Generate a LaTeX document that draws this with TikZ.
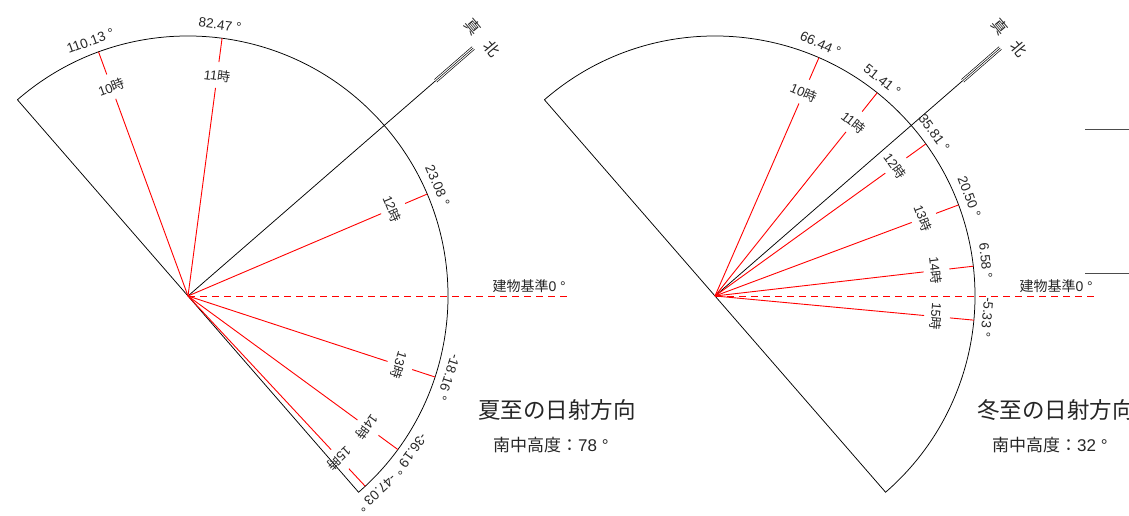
\documentclass[tikz,border=0pt]{standalone}
\usepackage{fontspec}
\setmainfont{Noto Sans CJK JP}
\newfontfamily\latnum{Liberation Sans}
\begin{document}
\begin{tikzpicture}[x=1pt,y=1pt,
  outline/.style={black, line width=0.75pt},
  northtick/.style={black, line width=0.5pt},
  hourline/.style={red, line width=0.9pt},
  refline/.style={red, line width=0.9pt, dash pattern=on 7pt off 5pt},
  anglelbl/.style={font=\latnum\fontsize{13.5}{13.5}\selectfont, inner sep=0pt, text=black!85},
  hourlbl/.style={font=\fontsize{13}{13}\selectfont, inner sep=0pt, text=black!85},
  reflbl/.style={font=\fontsize{14}{14}\selectfont, inner sep=0pt, anchor=south east, text=black!85},
  northlbl/.style={font=\fontsize{15.5}{15.5}\selectfont, inner sep=0pt, text=black!85},
  titlelbl/.style={font=\fontsize{22.5}{22.5}\selectfont, inner sep=0pt, anchor=west, text=black!85},
  sublbl/.style={font=\fontsize{17}{17}\selectfont, inner sep=0pt, anchor=west, text=black!85},
  edgeline/.style={black!70, line width=0.9pt}]
\useasboundingbox (0,0) rectangle (1129,516);

% ---------- Left diagram (summer solstice) ----------
\begin{scope}[shift={(188,220)}]
  \coordinate (L-c) at (0,0);
  \coordinate (L-a) at (131:260);
  \coordinate (L-b) at (-49:260);
  \draw[outline] (L-a) -- (L-c) -- (L-b) arc (-49:131:260);
  \coordinate (L-n1) at (41:328);
  \coordinate (L-n2) at (41:378);
  \draw[outline] (L-c) -- (L-n1);
  \draw[northtick] (L-n1) -- (L-n2);
  \draw[northtick] ([shift={(131:1.8)}]L-n1) -- ([shift={(131:1.8)}]L-n2);
  \draw[northtick] ([shift={(-49:1.8)}]L-n1) -- ([shift={(-49:1.8)}]L-n2);
  \node[northlbl, rotate=-50] (L-north) at (41.2:392) {真\hspace{0.9em}北};
  \foreach \a/\h in {110.13/10, 82.47/11, 23.08/12, -18.16/13, -36.19/14, -47.03/15}{
    \coordinate (L-p\h) at (\a:260);
    \draw[hourline] (L-c) -- (\a:210) (\a:236) -- (L-p\h);
    \node[hourlbl, rotate=\a-90] (L-h\h) at (\a:222) {{\latnum\h}時};
    \node[anglelbl, rotate=\a-90] (L-d\h) at (\a+0.8:273) {\a\ °};
  }
  \coordinate (L-r) at (379,0);
  \draw[refline] (L-c) -- (L-r);
  \node[reflbl] (L-ref) at ([shift={(-1,3)}]L-r) {建物基準{\latnum 0 °}};
\end{scope}
\node[titlelbl] (L-title) at (478,106) {夏至の日射方向};
\node[sublbl] (L-sub) at (493,71) {南中高度：{\latnum 78 °}};

% ---------- Right diagram (winter solstice) ----------
\begin{scope}[shift={(715,220)}]
  \coordinate (R-c) at (0,0);
  \coordinate (R-a) at (131:260);
  \coordinate (R-b) at (-49:260);
  \draw[outline] (R-a) -- (R-c) -- (R-b) arc (-49:131:260);
  \coordinate (R-n1) at (41:328);
  \coordinate (R-n2) at (41:378);
  \draw[outline] (R-c) -- (R-n1);
  \draw[northtick] (R-n1) -- (R-n2);
  \draw[northtick] ([shift={(131:1.8)}]R-n1) -- ([shift={(131:1.8)}]R-n2);
  \draw[northtick] ([shift={(-49:1.8)}]R-n1) -- ([shift={(-49:1.8)}]R-n2);
  \node[northlbl, rotate=-50] (R-north) at (41.2:392) {真\hspace{0.9em}北};
  \foreach \a/\h in {66.44/10, 51.41/11, 35.81/12, 20.50/13, 6.58/14, -5.33/15}{
    \coordinate (R-p\h) at (\a:260);
    \draw[hourline] (R-c) -- (\a:210) (\a:236) -- (R-p\h);
    \node[hourlbl, rotate=\a-90] (R-h\h) at (\a:222) {{\latnum\h}時};
    \node[anglelbl, rotate=\a-90] (R-d\h) at (\a+0.8:273) {\a\ °};
  }
  \coordinate (R-r) at (379,0);
  \draw[refline] (R-c) -- (R-r);
  \node[reflbl] (R-ref) at ([shift={(-1,3)}]R-r) {建物基準{\latnum 0 °}};
\end{scope}
\node[titlelbl] (R-title) at (977,106) {冬至の日射方向};
\node[sublbl] (R-sub) at (992,71) {南中高度：{\latnum 32 °}};

% ---------- partial elements at the right edge ----------
\coordinate (E-a1) at (1085,387);
\coordinate (E-a2) at (1129,387);
\coordinate (E-b1) at (1085,243);
\coordinate (E-b2) at (1129,243);
\draw[edgeline] (E-a1) -- (E-a2);
\draw[edgeline] (E-b1) -- (E-b2);
\end{tikzpicture}
\end{document}
